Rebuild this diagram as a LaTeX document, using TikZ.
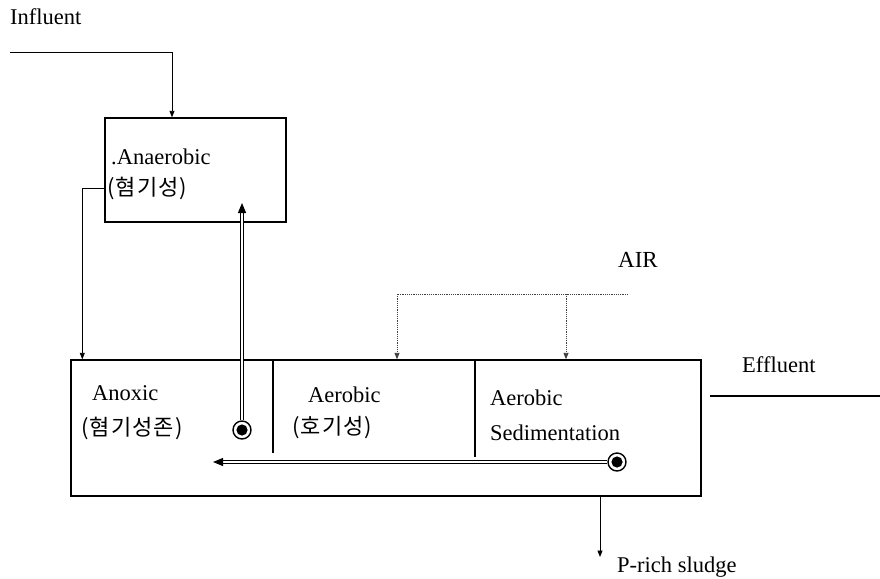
\documentclass[tikz,border=0pt]{standalone}
\usepackage{fontspec}
\setmainfont{Liberation Serif}
\newfontfamily\krfont[LetterSpace=5]{Noto Sans CJK KR}
\usetikzlibrary{arrows.meta,calc}
\tikzset{
  boxline/.style={draw, line width=1.4pt, inner sep=0pt},
  arr/.style={line width=0.9pt, -{Triangle[length=6.5pt,width=5pt]}},
  airarr/.style={line width=0.9pt, black!75, dash pattern=on 1.2pt off 1pt, -{Triangle[length=6.5pt,width=5pt]}},
  airline/.style={line width=0.9pt, black!75, dash pattern=on 1.2pt off 1pt},
  dbl/.style={line width=1.2pt, double=white, double distance=1.6pt, -{Triangle[length=10pt,width=8pt]}},
  bullet/.style={circle, draw, line width=1.4pt, fill=white, minimum size=18pt, inner sep=0pt,
    path picture={\fill[black] (path picture bounding box.center) circle (5.6pt);}},
  lbl/.style={anchor=west, inner sep=0pt, font=\fontsize{22.5}{24}\selectfont},
  krlbl/.style={anchor=west, inner sep=0pt, font=\krfont\fontsize{22}{24}\selectfont},
}
\begin{document}
\begin{tikzpicture}[x=1pt,y=-1pt]
\useasboundingbox (0,0) rectangle (880,578);
% boxes
\node[boxline, minimum width=181pt, minimum height=104pt] (ana) at (195.5,170) {};
\node[boxline, minimum width=630pt, minimum height=136pt] (main) at (386,428) {};
% dividers
\coordinate (d1t) at (273,360); \coordinate (d1b) at (273,453);
\coordinate (d2t) at (475,360); \coordinate (d2b) at (475,457);
\draw[line width=1.4pt] (d1t) -- (d1b);
\draw[line width=1.4pt] (d2t) -- (d2b);
% labels
\node[lbl] (tinf) at (10,17) {Influent};
\node[lbl] (tana) at (111,157) {.Anaerobic};
\node[krlbl] (tana2) at (107,188) {(혐기성)};
\node[lbl] (tanox) at (92,393) {Anoxic};
\node[krlbl] (tanox2) at (81,428) {(혐기성존)};
\node[lbl] (taer) at (308,395) {Aerobic};
\node[krlbl] (taer2) at (292,428) {(호기성)};
\node[lbl] (tsed) at (490,398) {Aerobic};
\node[lbl] (tsed2) at (490,433) {Sedimentation};
\node[lbl, font=\fontsize{23}{25}\selectfont] (tair) at (618,260) {AIR};
\node[lbl] (teff) at (742,365) {Effluent};
\node[lbl] (tsl) at (617,567) {P-rich sludge};
% influent
\coordinate (inf) at (10,52);
\draw[arr] (inf) -| ([xshift=-23.5pt]ana.north);
% anaerobic -> anoxic
\draw[arr] ([yshift=-18pt]ana.west) -| ([xshift=12pt]main.north west);
% air
\coordinate (air) at (628,294);
\coordinate (a1) at (397,294);
\coordinate (a2) at (566,294);
\draw[airline] (air) -- (a1);
\draw[airarr] (a1) -- (a1 |- main.north);
\draw[airarr] (a2) -- (a2 |- main.north);
% effluent
\coordinate (e1) at (710,396);
\coordinate (e2) at (880,396);
\draw[line width=1.3pt] (e1) -- (e2);
% sludge
\coordinate (s1) at (600,557);
\draw[arr] (s1 |- main.south) -- (s1);
% recycle lines
\node[bullet] (c1) at (242,430) {};
\node[bullet] (c2) at (617,462) {};
\coordinate (r1) at (242,203);
\coordinate (r2) at (213,462);
\draw[dbl] (c1.north) -- (r1);
\draw[dbl] (c2.west) -- (r2);
\end{tikzpicture}
\end{document}
